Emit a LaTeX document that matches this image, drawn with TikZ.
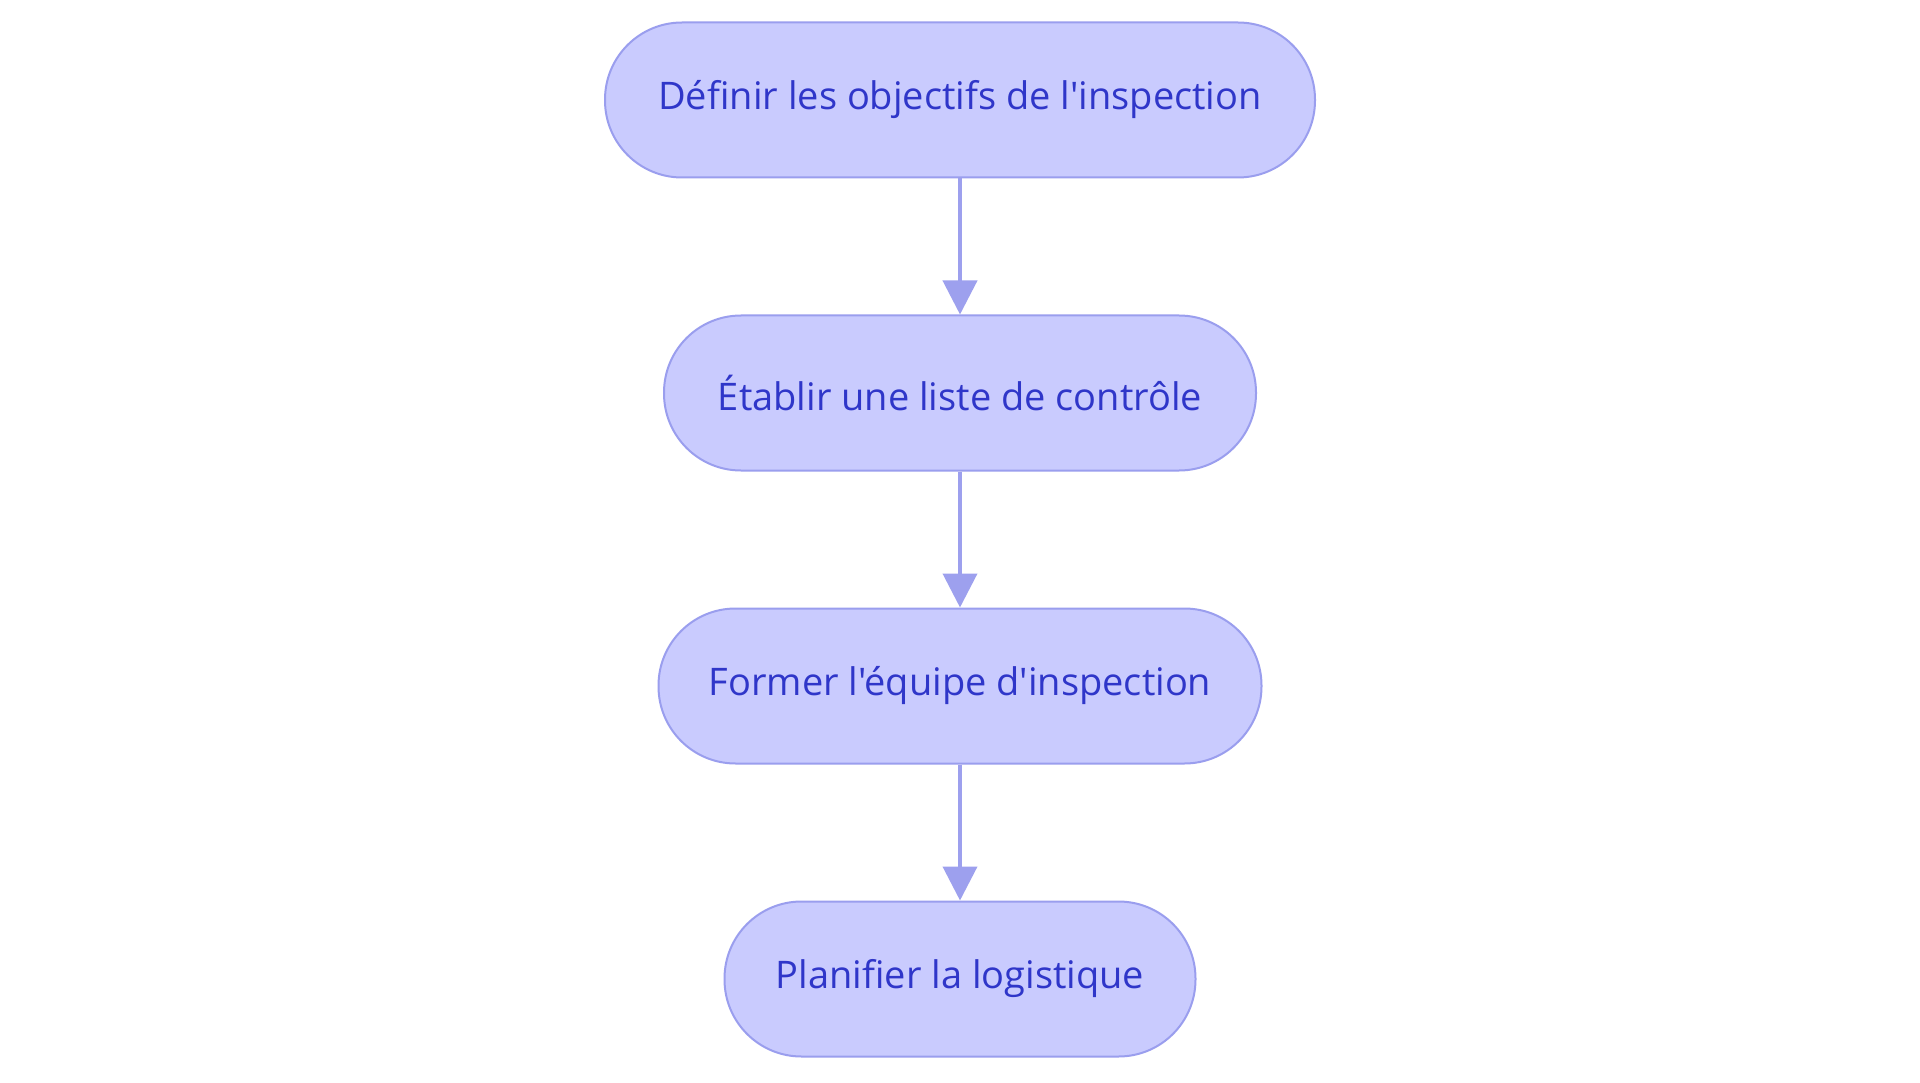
\documentclass[tikz,border=0pt]{standalone}
\usepackage{fontspec}
\setmainfont{Open Sans}[Ligatures=TeXOff]
\usetikzlibrary{arrows.meta}
\definecolor{boxfill}{HTML}{C9CBFE}
\definecolor{boxdraw}{HTML}{9A9EEE}
\definecolor{txt}{HTML}{2F36C9}
\definecolor{arr}{HTML}{9DA0EE}
\begin{document}
\begin{tikzpicture}[x=1pt,y=-1pt,
  stepbox/.style={draw=boxdraw,fill=boxfill,line width=2pt,rounded corners=77pt,
    minimum height=155pt,text=txt,font=\fontsize{38}{44}\selectfont,inner sep=0pt},
  link/.style={draw=arr,line width=4pt,-{Triangle[length=34pt,width=34pt]}}]
\useasboundingbox (0,0) rectangle (1920,1083);
\fill[white] (0,0) rectangle (1920,1083);
\node[stepbox,minimum width=710pt] (a) at (960,100) {Définir les objectifs de l'inspection};
\node[stepbox,minimum width=592pt] (b) at (960,393) {Établir une liste de contrôle};
\node[stepbox,minimum width=603pt] (c) at (960,686) {Former l'équipe d'inspection};
\node[stepbox,minimum width=471pt] (d) at (960,979) {Planifier la logistique};
\draw[link] (a) -- (b);
\draw[link] (b) -- (c);
\draw[link] (c) -- (d);
\end{tikzpicture}
\end{document}
